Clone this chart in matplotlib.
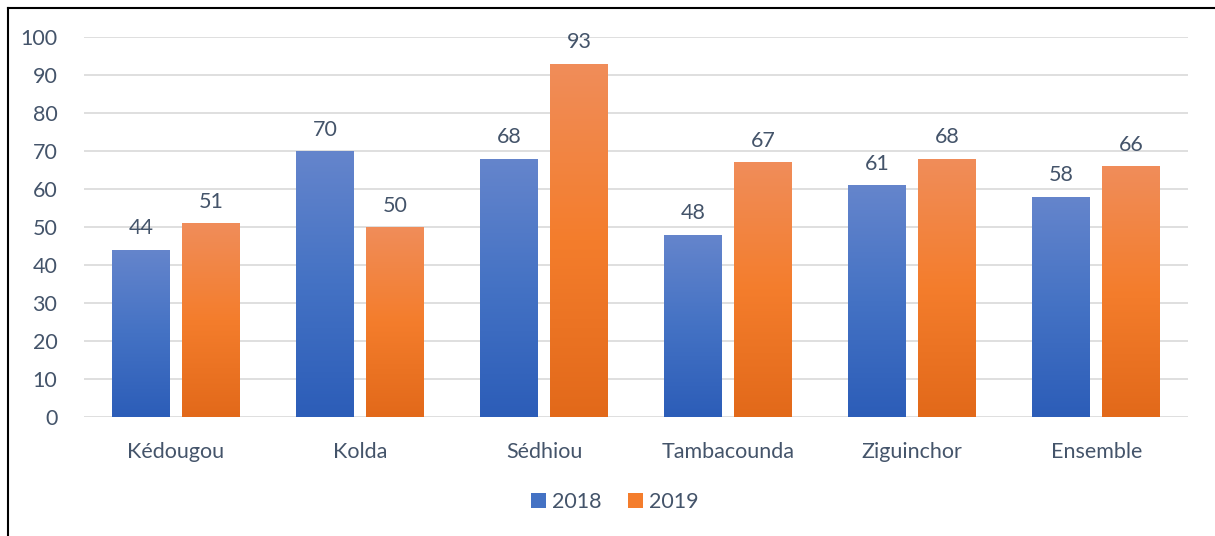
import numpy as np
import matplotlib.pyplot as plt
from matplotlib.colors import LinearSegmentedColormap
from matplotlib.lines import Line2D
from matplotlib.patches import Patch

# Regional values for both years
regions = ["Kédougou", "Kolda", "Sédhiou", "Tambacounda", "Ziguinchor", "Ensemble"]
vals_2018 = [44, 70, 68, 48, 61, 58]
vals_2019 = [51, 50, 93, 67, 68, 66]

text_col = "#44546A"
plt.rcParams['font.family'] = ['Lato', 'DejaVu Sans']
fs = 15.5

# vertical gradients (bottom -> top)
blue_cmap = LinearSegmentedColormap.from_list("blue", ["#2C5DB8", "#4472C4", "#6585CC"])
orange_cmap = LinearSegmentedColormap.from_list("orange", ["#E2691A", "#F47D2C", "#F08D5A"])

fig = plt.figure(figsize=(12.15, 5.36), dpi=100)
ax = fig.add_axes([0.069, 0.222, 0.909, 0.709])

x = np.arange(len(regions))
width = 0.315
offset = 0.19


def gradient_bars(xs, heights, cmap, label):
    bars = ax.bar(xs, heights, width, color="none", edgecolor="none", label=label, zorder=3)
    grad = np.linspace(0, 1, 256).reshape(-1, 1)
    for b in bars:
        x0, y0 = b.get_x(), b.get_y()
        w, h = b.get_width(), b.get_height()
        im = ax.imshow(grad, cmap=cmap, origin="lower", aspect="auto",
                       extent=[x0, x0 + w, y0, y0 + h], zorder=3)
        im.set_clip_path(b)
    for xi, v in zip(xs, heights):
        ax.text(xi, v + 3, f"{v}", ha="center", va="bottom", fontsize=fs, color=text_col)
    return bars


gradient_bars(x - offset, vals_2018, blue_cmap, "2018")
gradient_bars(x + offset, vals_2019, orange_cmap, "2019")

ax.set_xlim(-0.5, len(regions) - 0.5)
ax.set_ylim(0, 100)
ax.set_yticks(range(0, 101, 10))
ax.set_xticks(x)
ax.set_xticklabels(regions)
ax.tick_params(axis="both", length=0, labelsize=fs, colors=text_col)
ax.tick_params(axis="x", pad=18)
ax.tick_params(axis="y", pad=19)
ax.grid(axis="y", color="#D9D9D9", linewidth=1.2, zorder=0)
for s in ax.spines.values():
    s.set_visible(False)

handles = [Patch(facecolor="#4472C4", label="2018"), Patch(facecolor="#F47D2C", label="2019")]
fig.legend(handles=handles, loc="center", bbox_to_anchor=(0.506, 0.064), ncol=2,
           frameon=False, fontsize=fs, labelcolor=text_col, handlelength=0.7,
           handleheight=0.7, handletextpad=0.3, columnspacing=1.2)

# frame lines on top and left edges
fig.add_artist(Line2D([8 / 1215, 1], [1 - 8 / 536, 1 - 8 / 536], color="black", lw=1.5,
                      transform=fig.transFigure))
fig.add_artist(Line2D([8 / 1215, 8 / 1215], [0, 1 - 8 / 536], color="black", lw=1.5,
                      transform=fig.transFigure))

fig.savefig("out.png", dpi=100)
